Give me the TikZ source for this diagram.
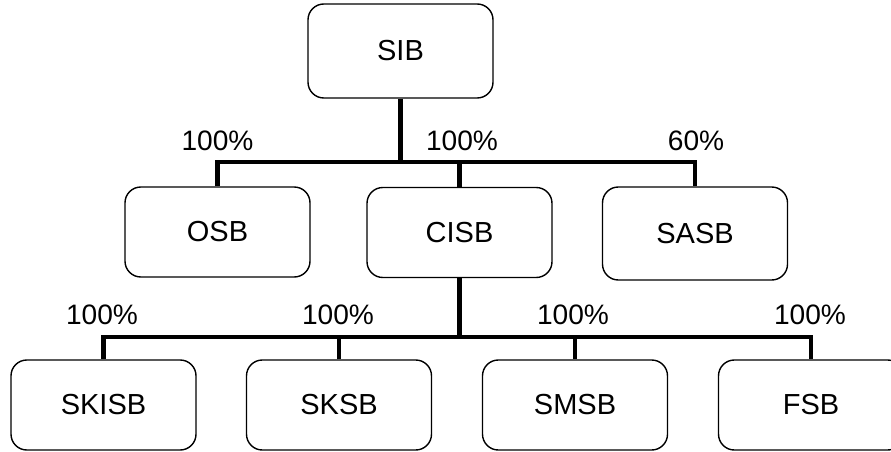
\documentclass[tikz,border=0pt]{standalone}
\usepackage{fontspec}
\setmainfont{Liberation Sans}
\usepackage{tikz}
\usetikzlibrary{positioning, calc}

\begin{document}
\begin{tikzpicture}[
  co/.style={draw, line width=0.8pt, rounded corners=9pt,
             minimum width=3.7cm, minimum height=1.8cm,
             font=\fontsize{16.5}{19}\selectfont, inner sep=0pt},
  pct/.style={font=\fontsize{16}{18}\selectfont, inner sep=0pt},
  link/.style={line width=2.6pt},
]
  \useasboundingbox (0,0) rectangle (17.82,-9.04);

  % holding company and its subsidiaries
  \node[co, minimum height=1.88cm] (sib) at (8.01,-1.02) {SIB};
  \node[co] (osb)  at (4.35,-4.64) {OSB};
  \node[co] (cisb) at (9.19,-4.65) {CISB};
  \node[co, minimum height=1.86cm] (sasb) at (13.90,-4.67) {SASB};

  \node[co] (skisb) at (2.07,-8.10) {SKISB};
  \node[co] (sksb)  at (6.78,-8.10) {SKSB};
  \node[co] (smsb)  at (11.50,-8.10) {SMSB};
  \node[co] (fsb)   at (16.22,-8.10) {FSB};

  \coordinate (bar1) at (0,-3.24);
  \coordinate (bar2) at (0,-6.74);

  \draw[link] (sib.south) -- (sib.south |- bar1);
  \draw[link] (osb.north) |- (bar1 -| sasb.north) -- (sasb.north);
  \draw[link] (cisb.north) -- (cisb.north |- bar1);

  \draw[link] (cisb.south) -- (cisb.south |- bar2);
  \draw[link] (skisb.north) |- (bar2 -| fsb.north) -- (fsb.north);
  \draw[link] (sksb.north) -- (sksb.north |- bar2);
  \draw[link] (smsb.north) -- (smsb.north |- bar2);

  % shareholdings
  \node[pct] (p1) at (4.35,-2.82) {100\%};
  \node[pct] (p2) at (9.24,-2.82) {100\%};
  \node[pct] (p3) at (13.92,-2.82) {60\%};
  \node[pct] (p4) at (2.04,-6.30) {100\%};
  \node[pct] (p5) at (6.76,-6.30) {100\%};
  \node[pct] (p6) at (11.46,-6.30) {100\%};
  \node[pct] (p7) at (16.20,-6.30) {100\%};
\end{tikzpicture}
\end{document}
